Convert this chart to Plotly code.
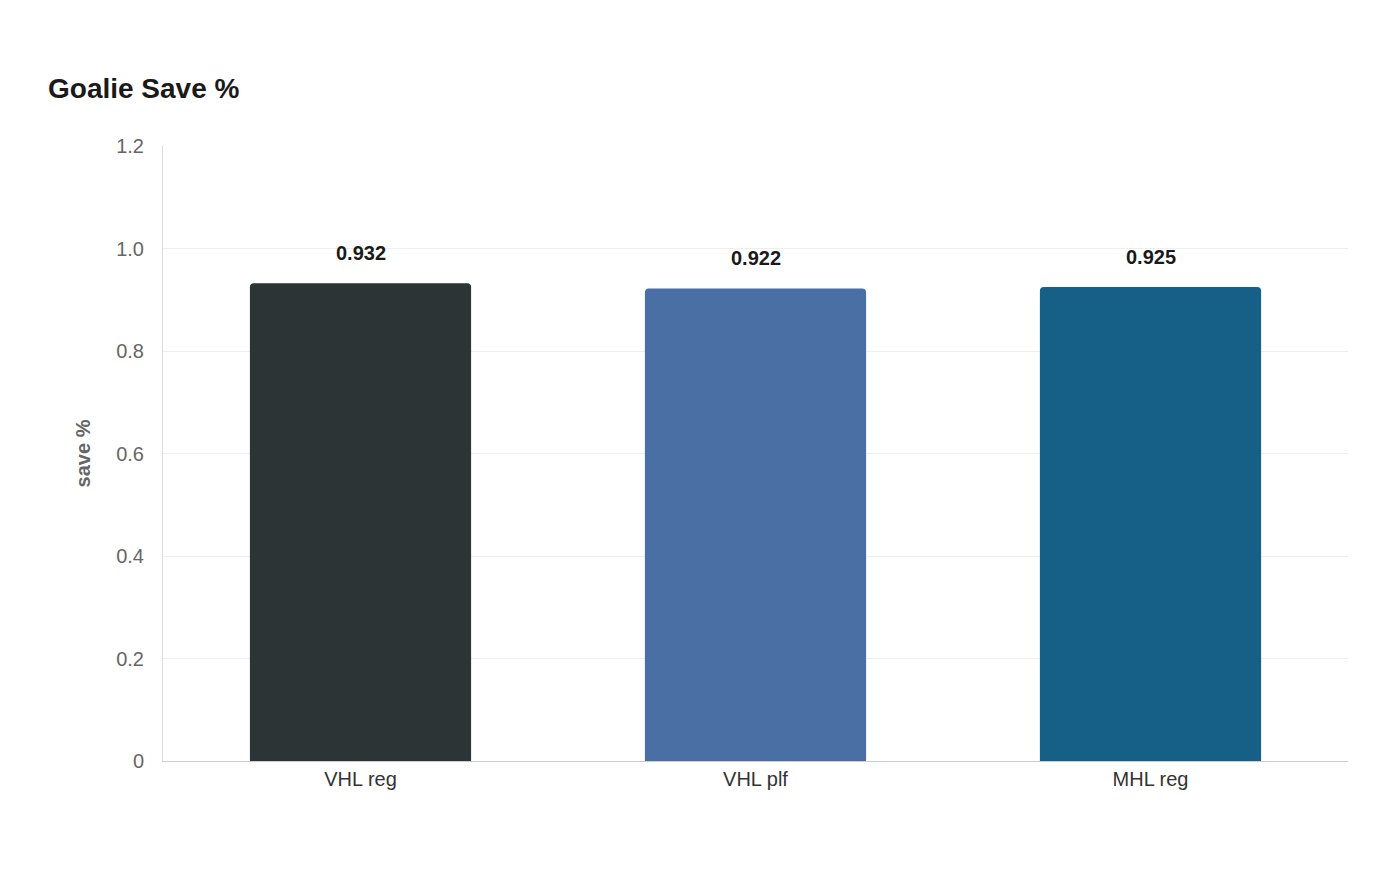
import plotly.graph_objects as go

categories = ["VHL reg", "VHL plf", "MHL reg"]
values = [0.932, 0.922, 0.925]
colors = ["#2d3436", "#4a6fa5", "#166088"]
labels = ["0.932", "0.922", "0.925"]

fig = go.Figure(go.Bar(x=categories, y=values, marker_color=colors, width=0.56,
                       marker_line_width=0, hoverinfo="skip"))
for c, v, t in zip(categories, values, labels):
    fig.add_annotation(x=c, y=v, text="<b>%s</b>" % t, showarrow=False, yshift=30,
                       font=dict(size=20, color="#1a1a1a"))
fig.update_layout(
    width=1400, height=880, template="plotly_white", barcornerradius=4,
    font=dict(family="Liberation Sans, Arial, sans-serif", color="#555"),
    title=dict(text="<b>Goalie Save %</b>", x=40/1400, xanchor="left", y=1-80/880, yanchor="middle",
               font=dict(size=28, color="#1a1a1a")),
    margin=dict(l=155, r=60, t=138, b=127),
    plot_bgcolor="white", showlegend=False,
    xaxis=dict(showline=True, linecolor="#ccc", linewidth=1, tickfont=dict(size=20, color="#333"),
               ticks="", showgrid=False),
    yaxis=dict(range=[0, 1.2], dtick=0.2, tickvals=[0,0.2,0.4,0.6,0.8,1.0,1.2],
               ticktext=["0","0.2","0.4","0.6","0.8","1.0","1.2"],
               gridcolor="#eeeeee", showline=True, linecolor="#ddd", zeroline=False,
               tickfont=dict(size=20, color="#666"), ticklabelstandoff=14,
               title=dict(text="<b>save %</b>", font=dict(size=20, color="#666"), standoff=20)),
)
fig.write_html("out.html")
